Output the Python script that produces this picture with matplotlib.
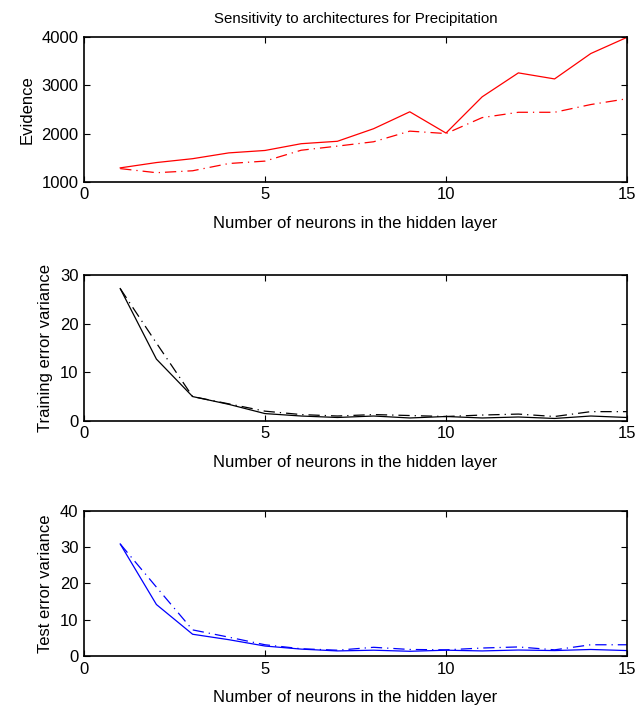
import matplotlib.pyplot as plt

plt.rcParams['font.family'] = ['Liberation Sans', 'DejaVu Sans']

neurons = list(range(1, 16))

evidence_a = [1290, 1400, 1480, 1600, 1650, 1790, 1840, 2100, 2450, 2010,
              2760, 3255, 3130, 3655, 3990]
evidence_b = [1275, 1190, 1230, 1380, 1430, 1655, 1740, 1830, 2050, 2000,
              2330, 2440, 2440, 2600, 2720]

train_a = [27.2, 12.7, 5.0, 3.4, 1.5, 1.0, 0.7, 1.0, 0.6, 0.9, 0.6, 0.8, 0.5, 1.0, 0.7]
train_b = [27.2, 16.0, 5.0, 3.5, 2.0, 1.3, 1.0, 1.3, 1.1, 0.9, 1.2, 1.4, 0.9, 1.9, 1.9]

test_a = [30.9, 14.2, 6.0, 4.5, 2.75, 1.9, 1.4, 1.6, 1.3, 1.6, 1.4, 1.65, 1.5, 1.8, 1.5]
test_b = [30.9, 19.0, 7.2, 5.2, 3.1, 2.0, 1.6, 2.4, 1.8, 1.7, 2.2, 2.5, 1.7, 3.1, 3.1]

dashdot = (0, (9, 4, 1, 4))

fig = plt.figure(figsize=(6.38, 7.05), dpi=100)
boxes = [[0.1317, 0.742, 0.851, 0.2057],
         [0.1317, 0.403, 0.851, 0.207],
         [0.1317, 0.0695, 0.851, 0.2057]]

panels = [
    (evidence_a, evidence_b, 'red', 'Evidence', (1000, 4000), [1000, 2000, 3000, 4000]),
    (train_a, train_b, 'black', 'Training error variance', (0, 30), [0, 10, 20, 30]),
    (test_a, test_b, 'blue', 'Test error variance', (0, 40), [0, 10, 20, 30, 40]),
]

for box, (ya, yb, col, ylab, ylim, yticks) in zip(boxes, panels):
    ax = fig.add_axes(box)
    ax.plot(neurons, ya, color=col, lw=0.9)
    ax.plot(neurons, yb, color=col, lw=0.9, linestyle=dashdot)
    ax.set_xlim(0, 15)
    ax.set_ylim(*ylim)
    ax.set_xticks([0, 5, 10, 15])
    ax.set_yticks(yticks)
    ax.tick_params(direction='in', top=True, right=True, labelsize=12, length=4, pad=4)
    ax.set_xlabel('Number of neurons in the hidden layer', fontsize=12, labelpad=10)
    ax.set_ylabel(ylab, fontsize=12, labelpad=5)
    for s in ax.spines.values():
        s.set_linewidth(1.2)
    if col == 'red':
        ax.set_title('Sensitivity to architectures for Precipitation', fontsize=10.8, pad=10)

fig.savefig('out.png', dpi=100)
plt.close(fig)
